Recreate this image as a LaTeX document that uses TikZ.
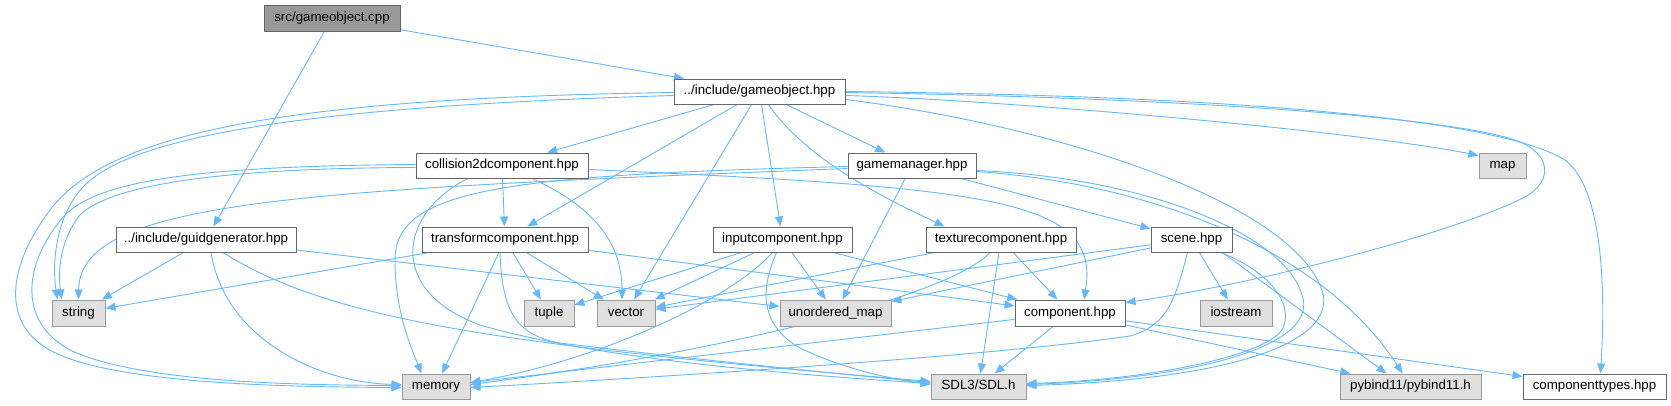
\documentclass[tikz,border=0pt]{standalone}
\usepackage{fontspec}
\setmainfont{Liberation Sans}
\usetikzlibrary{arrows.meta,calc}
\definecolor{edgec}{HTML}{63B8FF}
\definecolor{bordc}{HTML}{666666}
\definecolor{sysfill}{HTML}{E0E0E0}
\definecolor{sysbord}{HTML}{999999}
\definecolor{rootfill}{HTML}{999999}
\pgfdeclarelayer{edgelayer}
\pgfsetlayers{edgelayer,main}
\begin{document}
\begin{tikzpicture}[x=1pt,y=-1pt,
  nd/.style={draw=bordc, fill=white, line width=1pt, inner sep=0pt,
    font=\fontsize{13.3}{15}\selectfont, text height=9.6pt, text depth=2.8pt,
    minimum height=25pt},
  sys/.style={nd, fill=sysfill, draw=sysbord},
  root/.style={nd, fill=rootfill},
  e/.style={draw=edgec, line width=0.9pt, -{Triangle[length=10pt,width=8pt]}}]
\useasboundingbox (0,0) rectangle (1671,405);

% nodes
\node[root, minimum width=136pt, minimum height=26pt] (cpp) at (332,18) {src/gameobject.cpp};
\node[nd, minimum width=171pt] (gohpp) at (759.5,91.5) {../include/gameobject.hpp};
\node[nd, minimum width=172pt] (coll) at (502,165.5) {collision2dcomponent.hpp};
\node[nd, minimum width=128pt] (gm) at (912,165.5) {gamemanager.hpp};
\node[sys, minimum width=47pt] (map) at (1502.5,165.5) {map};
\node[nd, minimum width=180pt] (guid) at (206,239.5) {../include/guidgenerator.hpp};
\node[nd, minimum width=166pt] (trans) at (505,239.5) {transformcomponent.hpp};
\node[nd, minimum width=139pt] (input) at (782.5,239.5) {inputcomponent.hpp};
\node[nd, minimum width=150pt] (tex) at (1001,239.5) {texturecomponent.hpp};
\node[nd, minimum width=81pt] (scene) at (1191.5,239.5) {scene.hpp};
\node[sys, minimum width=53pt, minimum height=26pt] (string) at (78.5,313) {string};
\node[sys, minimum width=50pt, minimum height=26pt] (tuple) at (549,313) {tuple};
\node[sys, minimum width=58pt, minimum height=26pt] (vector) at (626,313) {vector};
\node[sys, minimum width=111pt, minimum height=26pt] (umap) at (835.5,313) {unordered\_map};
\node[nd, minimum width=110pt, minimum height=26pt] (comp) at (1070,313) {component.hpp};
\node[sys, minimum width=72pt, minimum height=26pt] (iostream) at (1236,313) {iostream};
\node[sys, minimum width=68pt] (memory) at (436,386.5) {memory};
\node[sys, minimum width=95pt] (sdl) at (978.5,386.5) {SDL3/SDL.h};
\node[sys, minimum width=141pt] (pybind) at (1410.5,386.5) {pybind11/pybind11.h};
\node[nd, minimum width=143pt] (ctypes) at (1594.5,386.5) {componenttypes.hpp};

\begin{pgfonlayer}{edgelayer}
% src/gameobject.cpp
\draw[e] (cpp) -- (gohpp);
\draw[e] (cpp) -- (guid);

% gameobject.hpp
\draw[e] (gohpp) -- (coll);
\draw[e] (gohpp) -- (gm);
\draw[e] (gohpp) -- (trans);
\draw[e] (gohpp) -- (vector);
\draw[e] (gohpp) -- (input);
\draw[e] (gohpp) .. controls (810,165) and (900,205) .. ($(tex.north west)+(19,0)$);
\draw[e] ($(gohpp.north east)+(0,17)$) .. controls (1000,100) and (1350,130) .. ($(map.north west)+(0,3)$);
\draw[e] ($(gohpp.north east)+(0,14)$) .. controls (1200,98) and (1450,118) .. (1515,140)
   .. controls (1550,152) and (1555,180) .. (1525,197)
   .. controls (1450,235) and (1250,285) .. ($(comp.north east)+(0,3)$);
\draw[e] ($(gohpp.north east)+(0,13)$) .. controls (1250,96) and (1500,120) .. (1565,160)
   .. controls (1605,190) and (1605,300) .. ($(ctypes.north)+(6,0)$);
\draw[e] ($(gohpp.west)+(0,1)$) .. controls (300,98) and (110,130) .. (50,210)
   .. controls (5,270) and (0,330) .. (60,355)
   .. controls (130,385) and (300,387) .. ($(memory.west)+(0,1)$);
\draw[e] ($(gohpp.west)+(0,4)$) .. controls (350,105) and (140,130) .. (85,185)
   .. controls (55,215) and (52,265) .. ($(string.north west)+(6,0)$);
\draw[e] ($(gohpp.east)+(0,8)$) .. controls (1050,125) and (1290,200) .. (1322,290)
   .. controls (1340,345) and (1220,380) .. ($(sdl.east)+(0,-1)$);

% collision2dcomponent.hpp
\draw[e] (coll) -- (trans);
\draw[e] ($(coll.south)+(30,0)$) .. controls (590,205) and (622,240) .. ($(vector.north)+(-4,0)$);
\draw[e] ($(coll.east)+(0,4)$) .. controls (1000,188) and (1100,200) .. ($(comp.north)+(14,0)$);
\draw[e] ($(coll.west)+(0,-1)$) .. controls (200,166) and (100,180) .. (65,215)
   .. controls (25,260) and (15,320) .. (70,350)
   .. controls (140,383) and (300,385) .. ($(memory.west)+(0,-1)$);
\draw[e] ($(coll.west)+(0,2)$) .. controls (220,168) and (110,185) .. (80,215)
   .. controls (60,240) and (58,270) .. ($(string.north west)+(10,0)$);
\draw[e] ($(coll.south)+(-34,0)$) .. controls (400,212) and (385,290) .. (480,325)
   .. controls (600,360) and (800,375) .. ($(sdl.west)+(0,-3)$);

% gamemanager.hpp
\draw[e] (gm) -- (scene);
\draw[e] (gm) -- (umap);
\draw[e] ($(gm.west)+(0,3)$) .. controls (300,190) and (80,200) .. (string.north);
\draw[e] ($(gm.west)+(0,1)$) .. controls (500,175) and (395,190) .. (395,260)
   .. controls (395,310) and (410,345) .. ($(memory.north west)+(20,0)$);
\draw[e] ($(gm.east)+(0,5)$) .. controls (1150,178) and (1285,235) .. (1302,295)
   .. controls (1320,345) and (1200,378) .. ($(sdl.east)+(0,-2)$);
\draw[e] ($(gm.east)+(0,6)$) .. controls (1170,185) and (1330,260) .. ($(pybind.north west)+(63,0)$);

% guidgenerator.hpp
\draw[e] (guid) -- (string);
\draw[e] (guid) -- (umap);
\draw[e] ($(guid.south)+(5,0)$) .. controls (225,340) and (320,383) .. ($(memory.west)+(0,-2)$);
\draw[e] ($(guid.south)+(17,0)$) .. controls (330,320) and (500,345) .. ($(sdl.west)+(0,-5)$);

% transformcomponent.hpp
\draw[e] (trans) -- (string);
\draw[e] (trans) -- (tuple);
\draw[e] (trans) -- (vector);
\draw[e] (trans) -- (memory);
\draw[e] (trans) -- (comp);
\draw[e] ($(trans.south)+(-5,0)$) .. controls (502,310) and (515,335) .. (560,343)
   .. controls (700,360) and (850,375) .. ($(sdl.west)+(0,-4)$);

% inputcomponent.hpp
\draw[e] (input) -- (tuple);
\draw[e] (input) -- (vector);
\draw[e] (input) -- (umap);
\draw[e] (input) -- (comp);
\draw[e] ($(input.south)+(-10,0)$) .. controls (730,300) and (600,360) .. ($(memory.east)+(0,-4)$);
\draw[e] ($(input.south)+(-6,0)$) .. controls (760,290) and (760,325) .. (800,348)
   .. controls (850,372) and (900,380) .. ($(sdl.west)+(0,-2)$);

% texturecomponent.hpp
\draw[e] (tex) -- (vector);
\draw[e] (tex) -- (sdl);
\draw[e] (tex) -- (comp);
\draw[e] ($(tex.south)+(-11,0)$) .. controls (945,300) and (700,355) .. ($(memory.east)+(0,-2)$);

% scene.hpp
\draw[e] (scene) -- (vector);
\draw[e] (scene) -- (umap);
\draw[e] (scene) -- (iostream);
\draw[e] ($(scene.south)+(-4,0)$) .. controls (1175,300) and (1168,325) .. (1130,336)
   .. controls (1000,355) and (700,375) .. ($(memory.east)+(0,1)$);
\draw[e] ($(scene.south east)+(-12,0)$) .. controls (1262,268) and (1295,300) .. (1283,328)
   .. controls (1270,355) and (1150,380) .. ($(sdl.east)+(0,-3)$);
\draw[e] ($(scene.south east)+(-10,0)$) -- ($(pybind.north west)+(47,0)$);

% component.hpp
\draw[e] (comp) -- (memory);
\draw[e] (comp) -- (sdl);
\draw[e] (comp) -- (pybind);
\draw[e] (comp) -- (ctypes);
\end{pgfonlayer}
\end{tikzpicture}
\end{document}
